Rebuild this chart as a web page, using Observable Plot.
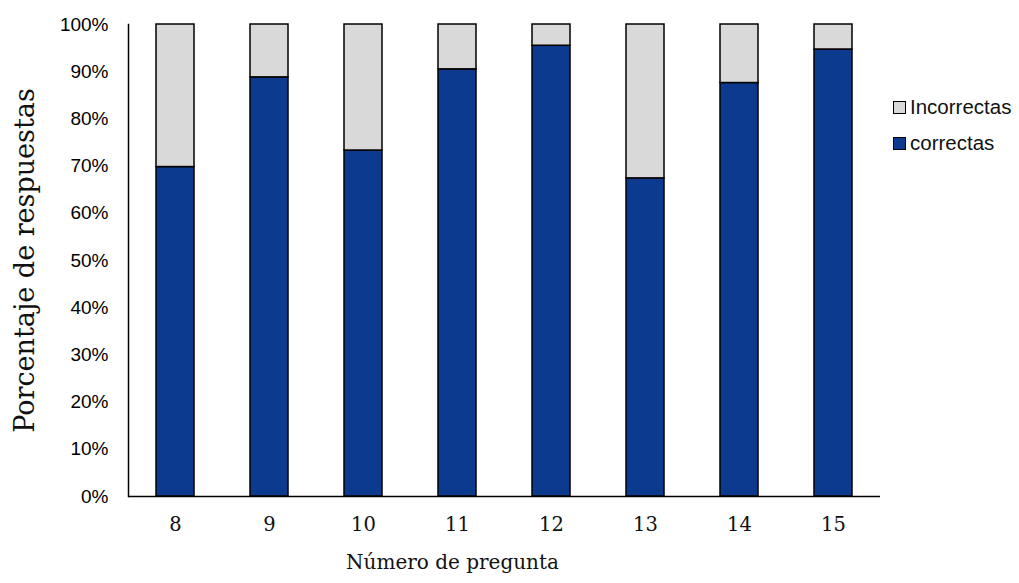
<!DOCTYPE html>
<html>
<head>
<meta charset="utf-8">
<script src="https://cdn.jsdelivr.net/npm/d3@7"></script>
<script src="https://cdn.jsdelivr.net/npm/@observablehq/plot@0.6"></script>
<style>
  html, body { margin: 0; padding: 0; background: #fff; }
  #wrap { position: relative; width: 1019px; height: 583px; }
  .leg { position: absolute; left: 893px; font-family: "Liberation Sans", Arial, sans-serif; font-size: 20.5px; color: #111; display: flex; align-items: center; height: 22px; line-height: 22px; }
  .leg span.sw { display: inline-block; width: 11px; height: 11px; border: 1.2px solid #000; margin-right: 4px; }
</style>
</head>
<body>
<div id="wrap"></div>
<script>
const preguntas = ["8", "9", "10", "11", "12", "13", "14", "15"];
const correctas = [69.8, 88.8, 73.3, 90.5, 95.5, 67.4, 87.6, 94.7];
const incorrectas = [30.2, 11.2, 26.7, 9.5, 4.5, 32.6, 12.4, 5.3];
const series = ["correctas", "Incorrectas"];
const colores = ["#0b3a8e", "#d9d9d9"];
const yTicks = [0, 10, 20, 30, 40, 50, 60, 70, 80, 90, 100];

const data = [];
preguntas.forEach((p, i) => {
  data.push({pregunta: p, serie: "correctas", valor: correctas[i]});
  data.push({pregunta: p, serie: "Incorrectas", valor: incorrectas[i]});
});

const chart = Plot.plot({
  width: 1019,
  height: 583,
  marginLeft: 128,
  marginRight: 139,
  marginTop: 24,
  marginBottom: 87,
  style: {background: "#fff", overflow: "visible"},
  x: {domain: preguntas, paddingInner: 0.595, paddingOuter: 0.2975, label: null},
  y: {domain: [0, 100], label: null},
  color: {domain: series, range: colores},
  marks: [
    Plot.barY(data, Plot.stackY({order: series}, {x: "pregunta", y: "valor", fill: "serie", stroke: "#000", strokeWidth: 1.5})),
    Plot.ruleY([0], {stroke: "#000", strokeWidth: 1.5}),
    Plot.frame({anchor: "left", stroke: "#000", strokeWidth: 1.5}),
    Plot.axisY({ticks: yTicks, tickSize: 0, tickPadding: 20, tickFormat: d => d + "%", fontSize: 19, fontFamily: "Liberation Sans, Arial, sans-serif", fill: "#000", label: null}),
    Plot.axisX({tickSize: 0, tickPadding: 21, fontSize: 19.5, fontFamily: "DejaVu Serif, serif", fill: "#111", label: null}),
    Plot.text(["Número de pregunta"], {frameAnchor: "bottom", dx: -52, dy: 72, fontSize: 20, fontFamily: "DejaVu Serif, serif", fill: "#111"}),
    Plot.text(["Porcentaje de respuestas"], {frameAnchor: "left", textAnchor: "middle", rotate: -90, dx: -103, dy: 0, fontSize: 27, fontFamily: "DejaVu Serif, serif", fill: "#111"})
  ]
});
const wrap = document.getElementById("wrap");
wrap.appendChild(chart);

const legendItems = [["Incorrectas", colores[1], 107], ["correctas", colores[0], 143]];
legendItems.forEach(([name, col, y]) => {
  const d = document.createElement("div");
  d.className = "leg";
  d.style.top = (y - 11) + "px";
  d.innerHTML = `<span class="sw" style="background:${col}"></span>${name}`;
  wrap.appendChild(d);
});
</script>
</body>
</html>
